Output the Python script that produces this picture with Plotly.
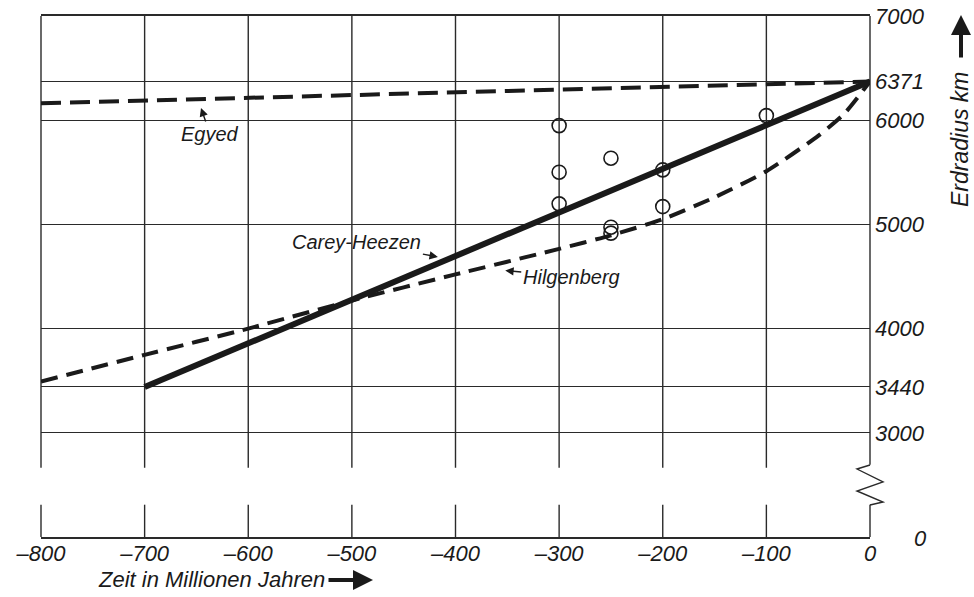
import plotly.graph_objects as go

# ---------------- data ----------------
X_TICKS = [-800, -700, -600, -500, -400, -300, -200, -100, 0]
X_TICK_TEXT = ["–800", "–700", "–600", "–500", "–400", "–300", "–200", "–100", "0"]
Y_TICKS = [3000, 3440, 4000, 5000, 6000, 6371, 7000]
Y_TICK_TEXT = ["3000", "3440", "4000", "5000", "6000", "6371", "7000"]
Y_ZERO_TEXT = "0"

carey_t = [-700, 0]
carey_r = [3440, 6371]

egyed_t = [-800, 0]
egyed_r = [6163, 6371]

hilg_t = [-800, -700, -600, -500, -400, -300, -250, -200, -150, -100, -50, -25, 0]
hilg_r = [3492, 3748, 4000, 4270, 4520, 4765, 4895, 5050, 5260, 5510, 5850, 6060, 6371]

obs_t = [-300, -300, -300, -250, -250, -250, -200, -200, -100]
obs_r = [5948, 5501, 5197, 5635, 4973, 4916, 5523, 5171, 6044]

# ---------------- styling / layout constants ----------------
FONT = "Liberation Sans, Arial, Helvetica, sans-serif"
INK = "#1a1a1a"
GRID = "#2a2a2a"
XMIN, XMAX = -800, 0
YMIN, YMAX = 2000, 7000          # bottom of broken axis represents radius 0
BREAK_HI, BREAK_LO = 2665, 2310  # gap in the vertical grid lines
W, H = 974, 597
ML, MR, MT, MB = 41, 104, 16, 60
PW, PH = W - ML - MR, H - MT - MB


def px_x(p):
    return (p - ML) / PW


def px_y(p):
    return (H - MB - p) / PH


def ypaper(v):
    return (v - YMIN) / (YMAX - YMIN)


fig = go.Figure()

fig.add_trace(go.Scatter(x=egyed_t, y=egyed_r, mode="lines",
                         line=dict(color=INK, width=4, dash="20px,9px"),
                         hoverinfo="skip"))
fig.add_trace(go.Scatter(x=hilg_t, y=hilg_r, mode="lines",
                         line=dict(color=INK, width=4, dash="17px,9px",
                                   shape="spline", smoothing=0.6),
                         hoverinfo="skip"))
fig.add_trace(go.Scatter(x=carey_t, y=carey_r, mode="lines",
                         line=dict(color=INK, width=6),
                         hoverinfo="skip"))
fig.add_trace(go.Scatter(x=obs_t, y=obs_r, mode="markers",
                         marker=dict(symbol="circle-open", size=14,
                                     line=dict(color=INK, width=1.6),
                                     color=INK),
                         hoverinfo="skip"))

# vertical grid lines (broken below 3000)
shapes = []
for xv in X_TICKS:
    xp = (xv - XMIN) / (XMAX - XMIN)
    hi = BREAK_HI if xv != XMAX else 2693
    lo = BREAK_LO if xv != XMAX else 2309
    shapes.append(dict(type="line", xref="paper", yref="paper",
                       x0=xp, x1=xp, y0=ypaper(YMAX), y1=ypaper(hi),
                       line=dict(color=GRID, width=1.4), layer="below"))
    shapes.append(dict(type="line", xref="paper", yref="paper",
                       x0=xp, x1=xp, y0=ypaper(lo), y1=ypaper(YMIN),
                       line=dict(color=GRID, width=1.4), layer="below"))

# zig-zag axis break on the right border
zz = [(870, 465), (857, 469), (883, 482), (857, 491), (883, 502), (870, 505)]
path = "M " + " L ".join(f"{px_x(a):.4f},{px_y(b):.4f}" for a, b in zz)
shapes.append(dict(type="path", xref="paper", yref="paper", path=path,
                   line=dict(color=GRID, width=1.4)))

tfont = dict(family=FONT, size=22, style="italic", color=INK)
lfont = dict(family=FONT, size=20, style="italic", color=INK)

annotations = [
    # y value 0 (below the break)
    dict(xref="paper", yref="paper", x=px_x(920), y=px_y(538), text=Y_ZERO_TEXT,
         showarrow=False, font=tfont, xanchor="center", yanchor="middle"),
    # axis titles
    dict(xref="paper", yref="paper", x=px_x(211), y=px_y(579),
         text="Zeit in Millionen Jahren", showarrow=False,
         font=dict(family=FONT, size=22, style="italic", color=INK),
         xanchor="center", yanchor="middle"),
    dict(xref="paper", yref="paper", x=px_x(373), y=px_y(580), text="",
         showarrow=True, ax=-46, ay=0, arrowhead=2, arrowsize=1, arrowwidth=4,
         arrowcolor=INK),
    dict(xref="paper", yref="paper", x=px_x(960), y=px_y(140),
         text="Erdradius km", showarrow=False, textangle=-90,
         font=dict(family=FONT, size=23, style="italic", color=INK),
         xanchor="center", yanchor="middle"),
    dict(xref="paper", yref="paper", x=px_x(961), y=px_y(15), text="",
         showarrow=True, ax=0, ay=44, arrowhead=2, arrowsize=1, arrowwidth=4,
         arrowcolor=INK),
    # curve labels
    dict(x=-645.6, y=6117, text="Egyed", ax=9, ay=26, showarrow=True,
         arrowhead=2, arrowsize=1.2, arrowwidth=1.4, arrowcolor=INK, font=lfont),
    dict(x=-417, y=4688, text="Carey-Heezen", ax=-81, ay=-15, showarrow=True,
         arrowhead=2, arrowsize=1.2, arrowwidth=1.4, arrowcolor=INK, font=lfont),
    dict(x=-352, y=4557, text="Hilgenberg", ax=66, ay=6, showarrow=True,
         arrowhead=2, arrowsize=1.2, arrowwidth=1.4, arrowcolor=INK, font=lfont),
]

fig.update_layout(width=W, height=H, margin=dict(l=ML, r=MR, t=MT, b=MB, autoexpand=False),
                  paper_bgcolor="white", plot_bgcolor="white", showlegend=False,
                  shapes=shapes, annotations=annotations)
fig.update_xaxes(range=[XMIN, XMAX], tickvals=X_TICKS, ticktext=X_TICK_TEXT,
                 showgrid=False, zeroline=False, showline=True, mirror=True,
                 linecolor=GRID, linewidth=1.6, ticks="", tickfont=tfont,
                 automargin=False, ticklabelstandoff=-4)
fig.update_yaxes(range=[YMIN, YMAX], side="right", tickvals=Y_TICKS,
                 ticktext=Y_TICK_TEXT, showgrid=True, gridcolor=GRID,
                 gridwidth=1.4, zeroline=False, showline=False, ticks="",
                 tickfont=tfont, ticklabelstandoff=4, automargin=False)

fig.write_html("out.html")
